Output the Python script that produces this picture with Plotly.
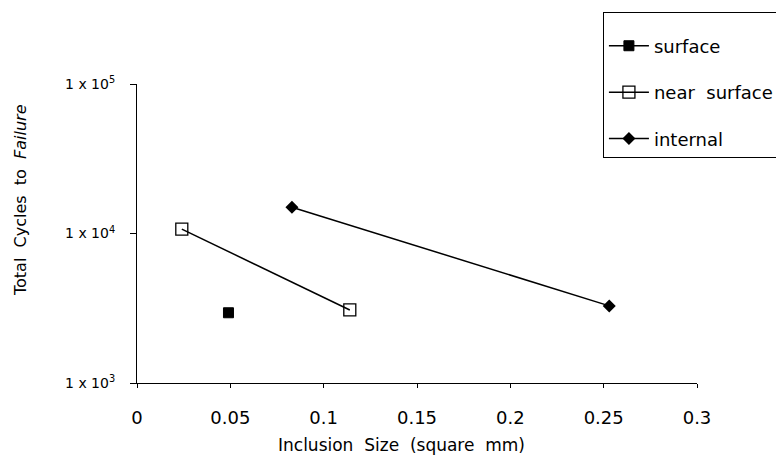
import plotly.graph_objects as go

surface_x = [0.049]
surface_y = [2950]
near_x = [0.024, 0.114]
near_y = [10700, 3080]
internal_x = [0.083, 0.253]
internal_y = [15000, 3280]

y_tickvals = [1e3, 1e4, 1e5]
y_ticktext = ["1 x 10<sup>3</sup>", "1 x 10<sup>4</sup>", "1 x 10<sup>5</sup>"]
x_tickvals = [0, 0.05, 0.1, 0.15, 0.2, 0.25, 0.3]
x_ticktext = ["0", "0.05", "0.1", "0.15", "0.2", "0.25", "0.3"]

FONT = "DejaVu Sans, Arial, sans-serif"

fig = go.Figure()
fig.add_trace(go.Scatter(x=surface_x, y=surface_y, mode="lines+markers", name="surface",
                         legendgroup="a",
                         line=dict(color="black", width=1.5),
                         marker=dict(symbol="square", size=10, color="black",
                                     line=dict(color="black", width=1))))
fig.add_trace(go.Scatter(x=near_x, y=near_y, mode="lines+markers", name="near  surface",
                         legendgroup="b",
                         line=dict(color="black", width=1.5),
                         marker=dict(symbol="square-open", size=12, color="black",
                                     line=dict(color="black", width=1.3))))
fig.add_trace(go.Scatter(x=internal_x, y=internal_y, mode="lines+markers", name="internal",
                         legendgroup="c",
                         line=dict(color="black", width=1.5),
                         marker=dict(symbol="diamond", size=10, color="black")))

fig.update_layout(
    width=784, height=460,
    paper_bgcolor="white", plot_bgcolor="white",
    margin=dict(l=129, r=95, t=76, b=85, autoexpand=False),
    font=dict(family=FONT, size=17, color="black"),
    showlegend=True,
    legend=dict(x=0.832, y=1.24, xanchor="left", yanchor="top",
                bordercolor="black", borderwidth=1, bgcolor="white",
                font=dict(size=18), tracegroupgap=20, itemwidth=40,
                title=dict(text=" ", font=dict(size=11)),
                traceorder="grouped"),
    xaxis=dict(range=[0, 0.3], tickvals=x_tickvals, ticktext=x_ticktext,
               showgrid=False, zeroline=False, showline=True, linecolor="black",
               linewidth=1, ticks="outside", ticklen=4, tickcolor="black",
               ticklabelstandoff=14, tickfont=dict(size=18)),
    yaxis=dict(type="log", range=[3, 5], tickvals=y_tickvals, ticktext=y_ticktext,
               showgrid=False, zeroline=False, showline=True, linecolor="black",
               linewidth=1, ticks="outside", ticklen=6, tickcolor="black",
               tickfont=dict(size=14), ticklabelstandoff=12),
    annotations=[
        dict(text="Inclusion  Size  (square  mm)", xref="paper", yref="paper",
             x=(401 - 137) / 560, y=-(445 - 383) / 299, xanchor="center",
             yanchor="middle", showarrow=False, font=dict(size=17)),
        dict(text="Total  Cycles  to  <i>Failure</i>", xref="paper", yref="paper",
             x=-(137 - 20) / 560, y=(383 - 200) / 299, xanchor="center",
             yanchor="middle", textangle=-90, showarrow=False, font=dict(size=16)),
    ],
)

fig.write_html("out.html")
